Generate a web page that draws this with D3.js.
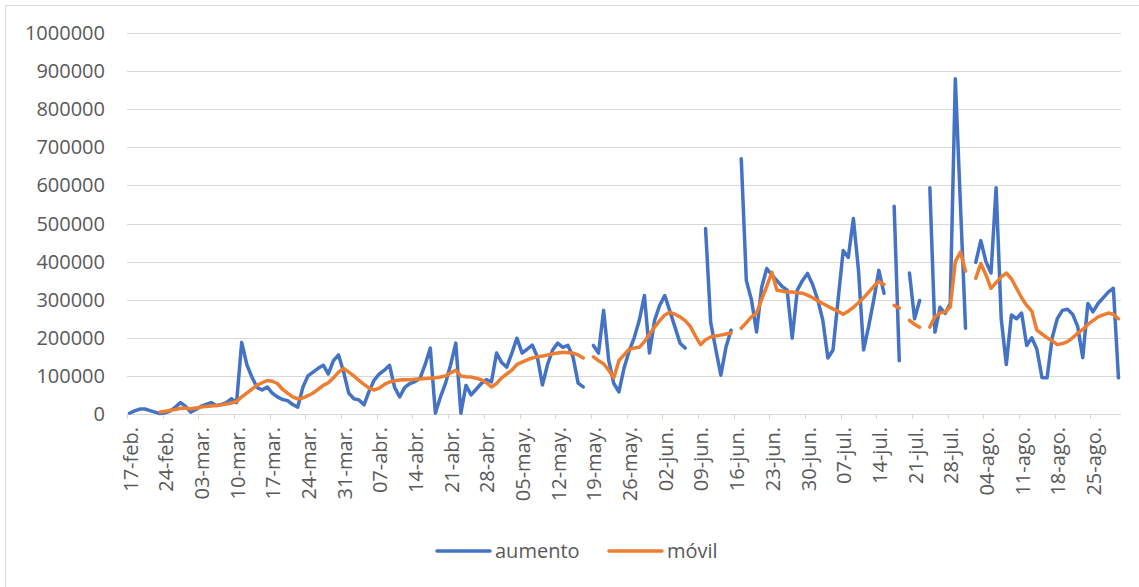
<!DOCTYPE html>
<html>
<head>
<meta charset="utf-8">
<script src="https://cdn.jsdelivr.net/npm/d3@7"></script>
<style>
  body { margin: 0; background: #fff; }
  text { font-family: "Open Sans", sans-serif; fill: #595959; }
</style>
</head>
<body>
<div id="vis"></div>
<script>
const svgWidth = 1139,
  svgHeight = 587,
  plotLeft = 127,
  plotRight = 1121,
  plotTop = 33,
  plotBottom = 414,
  fontSize = "20px";

// daily categories: 17-feb .. 30-ago
const startDay = new Date(2021, 1, 17),
  endDay = new Date(2021, 7, 31);
const days = d3.timeDay.range(startDay, endDay);

const tickLabels = [
  "17-feb.", "24-feb.", "03-mar.", "10-mar.", "17-mar.", "24-mar.", "31-mar.",
  "07-abr.", "14-abr.", "21-abr.", "28-abr.", "05-may.", "12-may.", "19-may.",
  "26-may.", "02-jun.", "09-jun.", "16-jun.", "23-jun.", "30-jun.", "07-jul.",
  "14-jul.", "21-jul.", "28-jul.", "04-ago.", "11-ago.", "18-ago.", "25-ago."
];
const yTicks = [0, 100000, 200000, 300000, 400000, 500000, 600000, 700000, 800000, 900000, 1000000];

const aumento = [
  2000, 8000, 13000, 13000, 9000, 5000, 1000,
  3000, 8000, 18000, 30000, 20000, 5000, 12000,
  20000, 25000, 30000, 22000, 25000, 30000, 40000,
  30000, 188000, 130000, 97000, 70000, 63000, 71000,
  55000, 45000, 38000, 35000, 25000, 18000, 70000,
  100000, 110000, 120000, 128000, 105000, 140000, 155000,
  110000, 55000, 40000, 37000, 24000, 60000, 89000,
  105000, 115000, 128000, 70000, 45000, 70000, 80000,
  85000, 94000, 130000, 173000, 2000, 45000, 81000,
  130000, 186000, 2000, 75000, 50000, 65000, 80000,
  90000, 84000, 160000, 135000, 123000, 160000, 199000,
  160000, 170000, 181000, 150000, 76000, 130000, 168000,
  186000, 175000, 180000, 150000, 81000, 71000, null,
  180000, 160000, 272000, 141000, 80000, 58000, 120000,
  165000, 200000, 246000, 311000, 160000, 246000, 285000,
  311000, 270000, 228000, 186000, 173000, null, null,
  null, 487000, 241000, 170000, 102000, 175000, 220000,
  null, 670000, 350000, 300000, 215000, 332000, 382000,
  365000, 350000, 335000, 325000, 199000, 325000, 350000,
  369000, 340000, 300000, 246000, 147000, 168000, 300000,
  429000, 411000, 513000, 377000, 168000, 230000, 300000,
  377000, 317000, null, 545000, 140000, null, 370000,
  250000, 298000, null, 594000, 215000, 280000, 264000,
  290000, 880000, 550000, 225000, null, 398000, 455000,
  400000, 370000, 594000, 250000, 130000, 260000, 250000,
  265000, 180000, 200000, 170000, 95000, 95000, 200000,
  250000, 272000, 275000, 262000, 230000, 148000, 290000,
  268000, 290000, 305000, 320000, 330000, 95000
];

const movil = [
  null, null, null, null, null, null, 5000,
  7000, 10000, 12000, 15000, 15000, 14000, 16000,
  18000, 20000, 21000, 22000, 24000, 26000, 29000,
  33000, 45000, 55000, 65000, 76000, 82000, 88000,
  86000, 80000, 65000, 55000, 45000, 40000, 42000,
  48000, 55000, 65000, 75000, 82000, 95000, 110000,
  120000, 110000, 100000, 88000, 78000, 68000, 63000,
  68000, 78000, 84000, 87000, 89000, 90000, 90000,
  91000, 92000, 93000, 94000, 95000, 97000, 100000,
  108000, 115000, 100000, 98000, 97000, 94000, 90000,
  82000, 71000, 80000, 95000, 105000, 115000, 130000,
  136000, 142000, 147000, 150000, 152000, 155000, 158000,
  160000, 162000, 161000, 160000, 155000, 147000, null,
  150000, 140000, 132000, 115000, 95000, 140000, 155000,
  170000, 173000, 175000, 190000, 210000, 228000, 245000,
  260000, 267000, 262000, 255000, 245000, 230000, 205000,
  182000, 195000, 202000, 205000, 207000, 210000, 212000,
  null, 225000, 240000, 255000, 265000, 300000, 335000,
  372000, 325000, 323000, 320000, 320000, 318000, 317000,
  312000, 305000, 297000, 290000, 283000, 276000, 270000,
  262000, 270000, 280000, 292000, 305000, 320000, 335000,
  348000, 340000, null, 285000, 278000, null, 246000,
  235000, 228000, null, 228000, 255000, 265000, 268000,
  280000, 400000, 425000, 375000, null, 356000, 395000,
  365000, 330000, 345000, 360000, 370000, 355000, 330000,
  305000, 285000, 270000, 220000, 210000, 200000, 192000,
  182000, 185000, 190000, 200000, 212000, 222000, 235000,
  245000, 255000, 260000, 265000, 262000, 250000
];

const series = [
  { name: "aumento", values: aumento, color: "#4472C4" },
  { name: "móvil", values: movil, color: "#ED7D31" },
];

var svg = d3
  .select("div#vis")
  .append("svg")
  .attr("width", svgWidth)
  .attr("height", svgHeight);

// chart frame
svg
  .append("rect")
  .attr("x", 5.5)
  .attr("y", 5.5)
  .attr("width", svgWidth)
  .attr("height", svgHeight)
  .style("fill", "none")
  .style("stroke", "#d9d9d9");

const x = d3.scaleBand().domain(d3.range(days.length)).range([plotLeft, plotRight]);
const cx = (i) => x(i) + x.bandwidth() / 2;
const y = d3.scaleLinear().domain([0, 1000000]).range([plotBottom, plotTop]);

// gridlines + y labels
svg
  .append("g")
  .selectAll("line")
  .data(yTicks)
  .enter()
  .append("line")
  .attr("x1", plotLeft)
  .attr("x2", plotRight)
  .attr("y1", (d) => Math.round(y(d)) + 0.5)
  .attr("y2", (d) => Math.round(y(d)) + 0.5)
  .style("stroke", "#d9d9d9")
  .style("stroke-width", 1);

svg
  .append("g")
  .selectAll("text")
  .data(yTicks)
  .enter()
  .append("text")
  .attr("x", 105)
  .attr("y", (d) => y(d))
  .attr("dy", "0.35em")
  .attr("text-anchor", "end")
  .style("font-size", fontSize)
  .text((d) => d);

// x ticks and labels, every 7 days
const tickIdx = tickLabels.map((_, k) => k * 7);

svg
  .append("g")
  .selectAll("line")
  .data(tickIdx)
  .enter()
  .append("line")
  .attr("x1", (i) => Math.round(x(i)) + 0.5)
  .attr("x2", (i) => Math.round(x(i)) + 0.5)
  .attr("y1", plotBottom)
  .attr("y2", plotBottom + 5)
  .style("stroke", "#d9d9d9");

svg
  .append("g")
  .selectAll("text")
  .data(tickIdx)
  .enter()
  .append("text")
  .attr("transform", (i) => `translate(${cx(i) + 1},${plotBottom + 13}) rotate(-90)`)
  .attr("dy", "0.35em")
  .attr("text-anchor", "end")
  .style("font-size", fontSize)
  .text((i, k) => tickLabels[k]);

// lines
const line = d3
  .line()
  .defined((d) => d != null)
  .x((d, i) => cx(i))
  .y((d) => y(d));

svg
  .selectAll("path.serie")
  .data(series)
  .enter()
  .append("path")
  .attr("class", "serie")
  .attr("d", (s) => line(s.values))
  .style("fill", "none")
  .style("stroke", (s) => s.color)
  .style("stroke-width", 3.5)
  .style("stroke-linejoin", "round")
  .style("stroke-linecap", "round");

// legend
const legendX = [437, 609];
const leg = svg
  .append("g")
  .selectAll("g")
  .data(series)
  .enter()
  .append("g")
  .attr("transform", (s, k) => `translate(${legendX[k]},551)`);

leg
  .append("line")
  .attr("x1", 0)
  .attr("x2", 53)
  .style("stroke", (s) => s.color)
  .style("stroke-width", 3.5)
  .style("stroke-linecap", "round");

leg
  .append("text")
  .attr("x", 58)
  .attr("dy", "0.35em")
  .style("font-size", fontSize)
  .text((s) => s.name);
</script>
</body>
</html>
